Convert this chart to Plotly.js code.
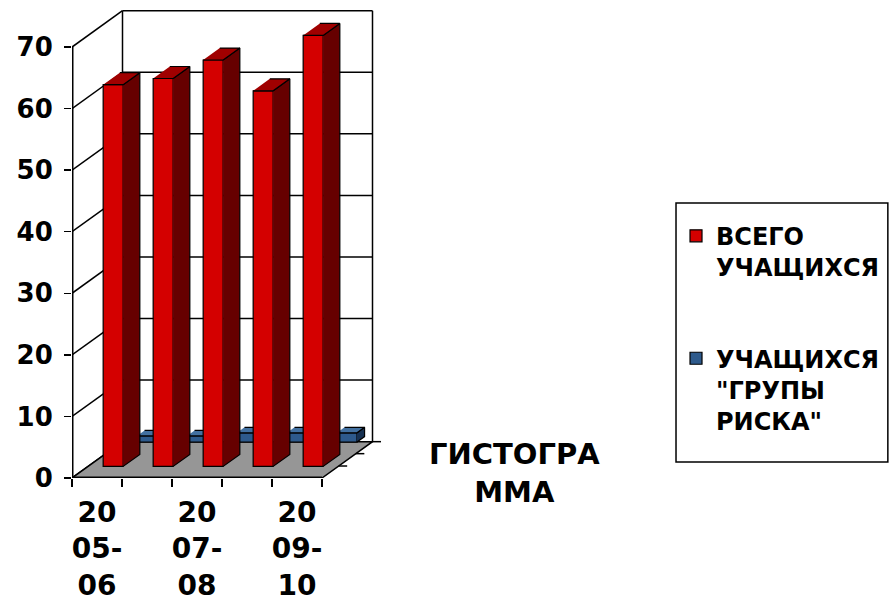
<!DOCTYPE html>
<html><head><meta charset="utf-8">
<script src="https://cdn.plot.ly/plotly-3.0.1.min.js"></script>
<style>html,body{margin:0;padding:0;background:#fff;}#chart{width:892px;height:605px;}</style>
</head><body><div id="chart"></div>
<script>
// ---- data ----
const categories = ['2005-06', '2006-07', '2007-08', '2008-09', '2009-10'];
const tickLabels = ['20<br>05-<br>06', '', '20<br>07-<br>08', '', '20<br>09-<br>10'];
const totalStudents = [62, 63, 66, 61, 70];
const riskStudents = [1, 1, 1.5, 1.5, 1.5];
const seriesNames = ['ВСЕГО<br>УЧАЩИХСЯ', 'УЧАЩИХСЯ<br>"ГРУПЫ<br>РИСКА"'];
const yTicks = [0, 10, 20, 30, 40, 50, 60, 70];
const depthLabel = 'ГИСТОГРА<br>ММА';

// ---- 3D (oblique) geometry ----
const N = categories.length;
const DX = 1.01, DY = 5.9;      // full depth offset in axis units
const BAR_W = 0.4;
const RED_T = [0.32, 0.65];
const BLUE_T = [0.99, 1.14];
const FONT = 'DejaVu Sans, Verdana, sans-serif';

function boxFaces(vals, t0, t1) {
  const r = {fx: [], base: [], sideX: [], sideY: [], topX: [], topY: []};
  const dx = DX * (t1 - t0), dy = DY * (t1 - t0), b = DY * t0;
  vals.forEach((v, i) => {
    const xc = i + 0.5 + DX * t0, xl = xc - BAR_W / 2, xr = xc + BAR_W / 2;
    r.fx.push(xc); r.base.push(b);
    r.sideX.push(xr, xr + dx, xr + dx, xr, null);
    r.sideY.push(b, b + dy, b + v + dy, b + v, null);
    r.topX.push(xl, xr, xr + dx, xl + dx, null);
    r.topY.push(b + v, b + v, b + v + dy, b + v + dy, null);
  });
  return r;
}
const red = boxFaces(totalStudents, RED_T[0], RED_T[1]);
const blue = boxFaces(riskStudents, BLUE_T[0], BLUE_T[1]);
const edge = {color: '#000', width: 1.2};

const data = [
  {type: 'bar', x: red.fx, y: totalStudents, base: red.base, width: BAR_W, xaxis: 'x2', yaxis: 'y2',
   name: seriesNames[0], legendgroup: 'a', marker: {color: '#D40000', line: edge}, hoverinfo: 'skip'},
  {type: 'bar', x: blue.fx, y: riskStudents, base: blue.base, width: BAR_W,
   name: seriesNames[1], legendgroup: 'b', marker: {color: '#2E5A8C', line: edge}, hoverinfo: 'skip'},
  {type: 'scatter', mode: 'lines', x: blue.sideX, y: blue.sideY, fill: 'toself', fillcolor: '#173152',
   line: edge, showlegend: false, hoverinfo: 'skip'},
  {type: 'scatter', mode: 'lines', x: blue.topX, y: blue.topY, fill: 'toself', fillcolor: '#4270A0',
   line: edge, showlegend: false, hoverinfo: 'skip'},
  {type: 'scatter', mode: 'lines', x: red.sideX, y: red.sideY, fill: 'toself', fillcolor: '#660000',
   line: edge, showlegend: false, hoverinfo: 'skip', xaxis: 'x2', yaxis: 'y2'},
  {type: 'scatter', mode: 'lines', x: red.topX, y: red.topY, fill: 'toself', fillcolor: '#A00000',
   line: edge, showlegend: false, hoverinfo: 'skip', xaxis: 'x2', yaxis: 'y2'}
];

// ---- walls / floor ----
const shapes = [];
const wl = {color: '#000', width: 1.5};
yTicks.forEach(v => {
  shapes.push({type: 'line', layer: 'below', x0: DX, x1: N + DX, y0: v + DY, y1: v + DY, line: wl});
  shapes.push({type: 'line', layer: 'below', x0: 0, x1: DX, y0: v, y1: v + DY, line: wl});
});
const yMax = yTicks[yTicks.length - 1];
shapes.push({type: 'line', layer: 'below', x0: DX, x1: DX, y0: DY, y1: yMax + DY, line: wl});
shapes.push({type: 'line', layer: 'below', x0: N + DX, x1: N + DX, y0: DY, y1: yMax + DY, line: wl});
shapes.push({type: 'path', layer: 'below',
  path: `M0,0 L${N},0 L${N + DX},${DY} L${DX},${DY} Z`, fillcolor: '#969696', line: wl});
shapes.push({type: 'line', layer: 'below', x0: 0, x1: 0, y0: 0, y1: yMax, line: {color: '#000', width: 3}});
shapes.push({type: 'line', layer: 'below', x0: 0, x1: N, y0: 0, y1: 0, line: {color: '#000', width: 3}});
[0.33, 0.67, 1.0].forEach(t => {
  shapes.push({type: 'line', layer: 'below', x0: N + DX * t, x1: N + DX * t + 0.17, y0: DY * t, y1: DY * t, line: wl});
});
// legend frame (paper coords)
shapes.push({type: 'rect', xref: 'paper', yref: 'paper', x0: 1.9175, x1: 2.59, y0: 0.034, y1: 0.584,
  line: {color: '#000', width: 1.5}, fillcolor: 'rgba(0,0,0,0)'});

const xr = [0, 6.3], yr = [0, 76.5];
const catTickVals = [], catTickText = [];
tickLabels.forEach((t, i) => { if (t) { catTickVals.push(i + 0.5); catTickText.push(t); } });

const layout = {
  width: 892, height: 605,
  margin: {l: 72, r: 505, t: 7, b: 127},
  paper_bgcolor: '#fff', plot_bgcolor: 'rgba(0,0,0,0)',
  showlegend: true, barmode: 'overlay', hovermode: false,
  font: {family: FONT, color: '#000'},
  xaxis: {range: xr, fixedrange: true, showgrid: false, zeroline: false, showline: false,
    tickmode: 'array', tickvals: catTickVals, ticktext: catTickText, ticks: '',
    tickfont: {family: FONT, size: 28, weight: 'bold', color: '#000'}, ticklabelstandoff: 15},
  xaxis2: {range: xr, overlaying: 'x', anchor: 'y2', side: 'bottom', fixedrange: true,
    showgrid: false, zeroline: false, showline: false, showticklabels: false,
    tickmode: 'array', tickvals: Array.from({length: N + 1}, (_, i) => i),
    ticks: 'outside', ticklen: 8, tickwidth: 1.5, tickcolor: '#000'},
  yaxis: {range: yr, fixedrange: true, showgrid: false, zeroline: false, showline: false,
    tickmode: 'array', tickvals: yTicks, ticks: 'outside', ticklen: 7, tickwidth: 1.5, tickcolor: '#000',
    tickfont: {family: FONT, size: 26, weight: 'bold', color: '#000'}, ticklabelstandoff: 6},
  yaxis2: {range: yr, overlaying: 'y', anchor: 'x2', fixedrange: true, visible: false},
  legend: {x: 1.9175, xanchor: 'left', y: 0.561, yanchor: 'top', bgcolor: 'rgba(0,0,0,0)', borderwidth: 0,
    font: {family: FONT, size: 24, weight: 'bold', color: '#000'}, valign: 'top',
    traceorder: 'grouped', tracegroupgap: 57, itemclick: false, itemdoubleclick: false},
  annotations: [{xref: 'paper', yref: 'paper', x: 1.406, y: 0.0106, xanchor: 'center', yanchor: 'middle',
    text: depthLabel, showarrow: false, font: {family: FONT, size: 29, weight: 'bold', color: '#000'}}],
  shapes: shapes
};

Plotly.newPlot('chart', data, layout, {staticPlot: true, displayModeBar: false});
</script></body></html>
